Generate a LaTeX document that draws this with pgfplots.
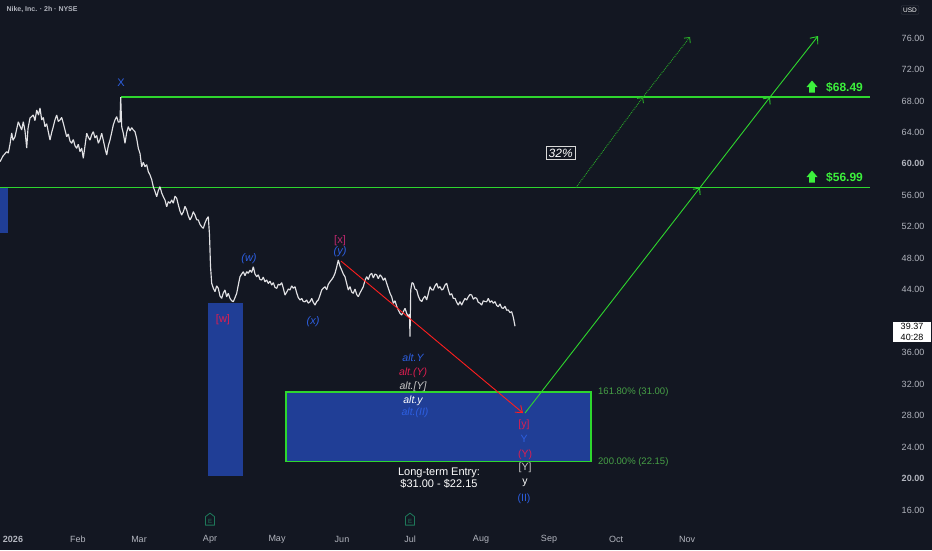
\documentclass[border=0pt]{standalone}
\usepackage{pgfplots}
\pgfplotsset{compat=1.18}
\usepackage{fontspec}
\setmainfont{Liberation Sans}
\usetikzlibrary{arrows.meta}
\definecolor{bg}{RGB}{19,23,34}
\definecolor{tickc}{RGB}{178,181,190}
\definecolor{pricec}{RGB}{225,225,228}
\definecolor{lgreen}{RGB}{46,214,46}
\definecolor{lbgreen}{RGB}{60,240,60}
\definecolor{dgreen}{RGB}{40,170,40}
\definecolor{fibgreen}{RGB}{70,160,70}
\definecolor{boxblue}{RGB}{32,62,150}
\definecolor{wblue}{RGB}{45,95,225}
\definecolor{wred}{RGB}{220,30,80}
\definecolor{xpink}{RGB}{190,40,110}
\definecolor{wgray}{RGB}{200,200,200}
\definecolor{redc}{RGB}{255,30,30}
\definecolor{egreen}{RGB}{30,120,90}
\definecolor{usdb}{RGB}{42,46,57}
\begin{document}
\begin{tikzpicture}[x=1pt,y=1pt]
\fill[bg] (0,0) rectangle (932,550);
\begin{axis}[at={(0pt,22pt)}, anchor=south west, width=890pt, height=528pt, scale only axis,
  xmin=0, xmax=890, ymin=13.72, ymax=80.83, clip=false,
  axis line style={draw=none}, major tick length=0pt, tick style={draw=none},
  yticklabel pos=right,
  ytick={16,20,24,28,32,36,44,48,52,56,60,64,68,72,76},
  yticklabels={16.00,\textbf{20.00},24.00,28.00,32.00,36.00,44.00,48.00,52.00,56.00,\textbf{60.00},64.00,68.00,72.00,76.00},
  yticklabel style={anchor=center, xshift=23pt, text=tickc, font=\fontsize{9}{10}\selectfont},
  xtick={13,78,139,210,277,342,410,481,549,616,687},
  xticklabels={\textbf{2026},Feb,Mar,Apr,May,Jun,Jul,Aug,Sep,Oct,Nov},
  xticklabel style={anchor=center, yshift=-11pt, text=tickc, font=\fontsize{9}{10}\selectfont},
]
% blue zones
\fill[boxblue] (axis cs:0,51.21) rectangle (axis cs:8,57.06);
\fill[boxblue] (axis cs:208,20.33) rectangle (axis cs:243,42.32);
\filldraw[fill=boxblue, draw=lgreen, line width=1.4pt] (axis cs:286,22.15) rectangle (axis cs:591,31.00);
% horizontal targets
\draw[color=lgreen, line width=1.4pt] (axis cs:121,68.49) -- (axis cs:870,68.49);
\draw[color=lgreen, line width=1.4pt] (axis cs:0,56.96) -- (axis cs:870,56.96);
% price
\addplot[pricec, line width=1.15pt, line join=bevel] table {
x y
0 60.28
3 61.0
6.7 61.55
8.3 61.38
10 62.5
11.7 63.92
13 63.0
15 63.45
17 64.6
18.3 65.36
20 64.8
21.7 64.31
23.3 65.36
25 64.2
26.7 62.02
28 64.5
30 65.83
33.3 66.21
35 65.5
36.7 66.85
38.5 66.2
40 67.10
41.7 65.58
43.3 65.9
45 64.73
46.7 65.1
48.3 64.09
50 63.03
51.7 64.0
53.3 64.73
55 65.6
56.7 66.21
58.3 65.4
60 65.58
61.7 65.9
63.3 65.16
65 64.3
66.7 63.45
68.3 63.8
70 62.9
71.7 62.62
73.3 63.1
75 62.3
76.7 61.98
78.3 62.5
80 61.55
81.7 62.0
83.3 60.71
85 62.3
86.7 63.89
88.3 63.4
90 63.03
91.7 63.7
93.3 64.09
95 63.3
96.7 63.6
98.3 62.62
100 63.1
101.7 63.89
103.3 63.0
105 62.0
106.7 61.13
108.3 62.3
110 63.03
111.7 64.0
113.3 64.94
115 65.6
116.7 66.00
118.3 65.3
120 65.36
120.7 68.49
121.7 64.73
123.3 63.9
125 62.62
126.7 64.0
128.3 64.73
130 64.2
131.7 64.6
133.3 64.31
135 64.09
136.7 63.2
138.3 61.98
140 61.34
141.7 59.64
143.3 60.2
145 59.64
146.7 59.9
148.3 59.01
150 58.6
151.7 58.0
153.3 57.10
155 56.5
156.7 55.83
158.3 56.6
160 57.10
161.7 56.3
163.3 55.83
165 55.4
166.7 54.56
168.3 55.2
170 55.0
171.7 55.41
173.3 55.0
175 55.9
176.7 55.62
178.3 54.8
180 54.0
181.7 53.50
183.3 53.9
185 54.6
186.7 54.14
188.3 53.4
190 52.87
191.7 53.3
193.3 53.92
195 53.5
196.7 52.9
198.3 52.87
200 52.3
201.7 52.0
203.3 51.81
205 52.5
206.7 53.0
208.3 53.29
209.5 51.0
210.5 47.0
211.7 44.82
213.3 44.2
215 43.75
216.7 44.5
218.3 44.18
220 43.2
221.7 42.91
223.3 43.6
225 43.97
226.7 43.1
228.3 43.55
230 42.9
231.7 42.6
233.3 42.48
235 43.0
236.7 43.55
238.3 44.6
240 45.66
241.7 46.0
243.3 46.29
245 45.8
246.7 46.3
248.3 46.09
250 46.5
251.7 46.2
253.3 46.93
255 46.0
256.7 45.66
258.3 45.9
260 45.3
261.7 45.24
263.3 45.6
265 45.0
266.7 45.24
268.3 44.8
270 45.1
271.7 44.60
273.3 44.9
275 44.3
276.7 44.18
278.3 44.7
280 44.60
281.7 44.9
283.3 44.2
285 43.33
286.7 43.7
288.3 44.1
290 43.97
291.7 44.5
293.3 44.2
295 44.39
296.7 43.6
298.3 43.0
300 42.70
301.7 42.9
303.3 42.5
305 42.48
306.7 42.7
308.3 42.3
310 42.48
311.7 42.9
313.3 42.4
315 42.06
316.7 42.5
318.3 42.70
320 43.3
321.7 43.97
323.3 44.2
325 44.39
326.7 44.0
328.3 44.7
330 45.02
331.7 45.3
333.3 45.6
335 46.09
336.7 46.9
338.3 47.78
340 47.0
341.7 46.51
343.3 46.0
345 45.66
346.7 44.8
348.3 43.97
350 44.4
351.7 43.7
353.3 43.55
355 44.1
356.7 43.4
358.3 43.12
360 43.6
361.7 44.0
363.3 44.39
365 45.2
366.7 45.66
368.3 45.3
370 45.9
371.7 46.09
373.3 45.5
375 46.0
376.7 45.88
378.3 45.4
380 45.9
381.7 45.66
383.3 45.2
385 45.5
386.7 44.82
388.3 44.2
390 43.55
391.7 43.1
393.3 42.28
395 42.6
396.7 41.9
398.3 41.43
400 41.0
401.7 40.79
403.3 41.2
405 41.64
406.7 41.0
408.3 40.58
409.5 40.9
410 38.03
410.5 42.0
410.7 43.97
412 44.9
413.3 44.82
415 44.1
416.7 43.97
418.3 43.2
420 42.70
421.7 42.5
423.3 42.91
425 43.2
426.7 42.70
428.3 43.5
430 44.39
431.7 44.0
433.3 43.97
435 44.5
436.7 44.82
438.3 44.2
440 44.4
441.7 43.97
443.3 44.1
445 44.6
446.7 44.82
448.3 44.0
450 43.33
451.7 43.5
453.3 42.9
455 42.91
456.7 42.4
458.3 42.06
460 42.5
461.7 42.06
463.3 42.5
465 42.9
466.7 42.70
468.3 43.1
470 43.4
471.7 43.33
473.3 42.8
475 43.0
476.7 42.91
478.3 42.4
480 42.3
481.7 42.06
483.3 42.6
485 42.5
486.7 42.48
488.3 42.9
490 42.4
491.7 42.6
493.3 42.28
495 42.5
496.7 42.0
498.3 41.85
500 42.2
501.7 41.7
503.3 41.64
505 41.9
506.7 41.4
508.3 41.43
510 41.1
511.7 41.21
513.3 40.5
515 39.37
};
% projected paths
\draw[redc, line width=0.9pt, -{Straight Barb[length=6pt,width=9pt]}] (axis cs:341,47.65) -- (axis cs:523,28.33);
\draw[lgreen, line width=0.9pt, -{Straight Barb[length=5pt,width=9pt]}] (axis cs:525,28.33) -- (axis cs:700,56.99);
\draw[lgreen, line width=0.9pt, -{Straight Barb[length=5pt,width=9pt]}] (axis cs:700,56.99) -- (axis cs:770,68.49);
\draw[lgreen, line width=0.9pt, -{Straight Barb[length=6pt,width=10pt]}] (axis cs:770,68.49) -- (axis cs:818,76.25);
\draw[dgreen, line width=0.9pt, densely dotted, -{Straight Barb[length=4pt,width=8pt]}] (axis cs:576,56.99) -- (axis cs:643,68.49);
\draw[dgreen, line width=0.9pt, densely dotted, -{Straight Barb[length=4pt,width=8pt]}] (axis cs:643,68.49) -- (axis cs:690,76.13);
% 32% box
\node[draw=white!85!black, fill=bg, line width=0.9pt, inner xsep=2.5pt, inner ysep=2pt, text=white, font=\itshape\fontsize{12}{13}\selectfont] at (axis cs:560.7,61.38) {32\%};
% target labels
\fill[lbgreen] (axis cs:812,69.77) ++(-5.5pt,0pt) -- ++(5.5pt,6.5pt) -- ++(5.5pt,-6.5pt) -- ++(-2.7pt,0pt) -- ++(0pt,-5.5pt) -- ++(-5.6pt,0pt) -- ++(0pt,5.5pt) -- cycle;
\fill[lbgreen] (axis cs:812,58.33) ++(-5.5pt,0pt) -- ++(5.5pt,6.5pt) -- ++(5.5pt,-6.5pt) -- ++(-2.7pt,0pt) -- ++(0pt,-5.5pt) -- ++(-5.6pt,0pt) -- ++(0pt,5.5pt) -- cycle;
\node[anchor=west, text=lbgreen, font=\bfseries\fontsize{12}{13}\selectfont, inner sep=0pt] at (axis cs:826,69.77) {\$68.49};
\node[anchor=west, text=lbgreen, font=\bfseries\fontsize{12}{13}\selectfont, inner sep=0pt] at (axis cs:826,58.33) {\$56.99};
\node[anchor=west, text=fibgreen, font=\fontsize{9.5}{10}\selectfont, inner sep=0pt] at (axis cs:598,31.0) {161.80\% (31.00)};
\node[anchor=west, text=fibgreen, font=\fontsize{9.5}{10}\selectfont, inner sep=0pt] at (axis cs:598,22.10) {200.00\% (22.15)};
% wave labels
\node[text=wblue, font=\fontsize{11}{12}\selectfont] at (axis cs:121,70.28) {X};
\node[text=wblue, font=\itshape\fontsize{11}{12}\selectfont] at (axis cs:249,47.91) {(w)};
\node[text=wblue, font=\itshape\fontsize{11}{12}\selectfont] at (axis cs:313,39.90) {(x)};
\node[text=xpink, font=\fontsize{11}{12}\selectfont] at (axis cs:340,50.20) {[x]};
\node[text=wblue, font=\itshape\fontsize{11}{12}\selectfont] at (axis cs:340,48.80) {(y)};
\node[text=wred, font=\fontsize{11}{12}\selectfont] at (axis cs:223,40.16) {[w]};
\node[text=wblue, font=\itshape\fontsize{10.5}{12}\selectfont] at (axis cs:413,35.32) {alt.Y};
\node[text=wred, font=\itshape\fontsize{10.5}{12}\selectfont] at (axis cs:413,33.42) {alt.(Y)};
\node[text=wgray, font=\itshape\fontsize{10.5}{12}\selectfont] at (axis cs:413,31.64) {alt.[Y]};
\node[text=white, font=\itshape\fontsize{10.5}{12}\selectfont] at (axis cs:413,29.86) {alt.y};
\node[text=wblue, font=\itshape\fontsize{10.5}{12}\selectfont] at (axis cs:415,28.33) {alt.(II)};
\node[text=wred, font=\fontsize{10.5}{12}\selectfont] at (axis cs:524,26.81) {[y]};
\node[text=wblue, font=\fontsize{10.5}{12}\selectfont] at (axis cs:524,25.03) {Y};
\node[text=wred, font=\fontsize{10.5}{12}\selectfont] at (axis cs:525,23.00) {(Y)};
\node[text=wgray, font=\fontsize{10.5}{12}\selectfont] at (axis cs:525,21.34) {[Y]};
\node[text=white, font=\fontsize{10.5}{12}\selectfont] at (axis cs:525,19.44) {y};
\node[text=wblue, font=\fontsize{10.5}{12}\selectfont] at (axis cs:524,17.40) {(II)};
\node[text=white, align=center, font=\fontsize{11}{12}\selectfont] at (axis cs:439,20.07) {Long-term Entry:\\\$31.00 - \$22.15};
% earnings badges
\filldraw[draw=egreen, fill=bg, line width=0.8pt, line join=round] (axis cs:210,14.85) ++(-4.5pt,-6pt) -- ++(9pt,0pt) -- ++(0pt,8.5pt) -- ++(-4.5pt,3.5pt) -- ++(-4.5pt,-3.5pt) -- cycle;
\node[text=egreen, inner sep=0pt, font=\fontsize{6}{6}\selectfont] at (axis cs:210,14.6) {E};
\filldraw[draw=egreen, fill=bg, line width=0.8pt, line join=round] (axis cs:410,14.85) ++(-4.5pt,-6pt) -- ++(9pt,0pt) -- ++(0pt,8.5pt) -- ++(-4.5pt,3.5pt) -- ++(-4.5pt,-3.5pt) -- cycle;
\node[text=egreen, inner sep=0pt, font=\fontsize{6}{6}\selectfont] at (axis cs:410,14.6) {E};
\end{axis}
% header and price scale widgets
\node[anchor=west, text=tickc, font=\bfseries\fontsize{7}{8}\selectfont] at (3,540) {Nike, Inc. · 2h · NYSE};
\node[draw=usdb, fill=bg, line width=0.6pt, rounded corners=1pt, text=white, inner sep=2pt, font=\fontsize{6.5}{7}\selectfont] at (910,540) {USD};
\node[fill=white, text=black, align=center, inner xsep=3pt, inner ysep=1.5pt, minimum width=38pt, font=\fontsize{9}{10.5}\selectfont] at (912,218) {39.37\\40:28};
\pgfresetboundingbox
\path (0,0) rectangle (932,550);
\end{tikzpicture}
\end{document}
